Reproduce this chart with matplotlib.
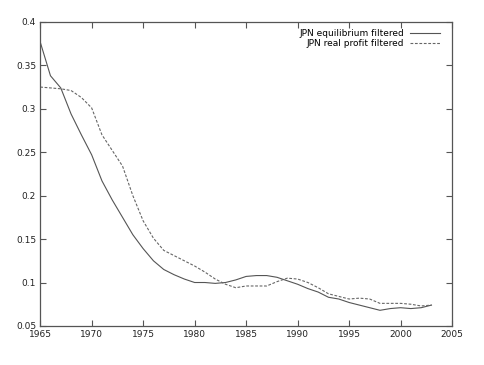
import matplotlib
matplotlib.use("Agg")
import matplotlib.pyplot as plt

years = list(range(1965, 2004))
equilibrium = [0.377, 0.338, 0.324, 0.294, 0.270, 0.247, 0.217, 0.195, 0.175, 0.155,
               0.139, 0.125, 0.115, 0.109, 0.104, 0.100, 0.100, 0.099, 0.100, 0.103,
               0.107, 0.108, 0.108, 0.106, 0.102, 0.098, 0.093, 0.089, 0.083, 0.081,
               0.077, 0.074, 0.071, 0.068, 0.070, 0.071, 0.070, 0.071, 0.074]
real_profit = [0.325, 0.324, 0.323, 0.321, 0.313, 0.301, 0.270, 0.252, 0.234, 0.200,
               0.171, 0.151, 0.137, 0.131, 0.125, 0.119, 0.112, 0.104, 0.098, 0.094,
               0.096, 0.096, 0.096, 0.101, 0.105, 0.104, 0.100, 0.094, 0.087, 0.084,
               0.081, 0.082, 0.081, 0.076, 0.076, 0.076, 0.075, 0.073, 0.074]

xticks = [1965, 1970, 1975, 1980, 1985, 1990, 1995, 2000, 2005]
yticks = [0.05, 0.1, 0.15, 0.2, 0.25, 0.3, 0.35, 0.4]
ytick_labels = ['0.05', '0.1', '0.15', '0.2', '0.25', '0.3', '0.35', '0.4']

fig = plt.figure(figsize=(4.84, 3.65), dpi=100)
ax = fig.add_axes([0.083, 0.107, 0.851, 0.833])

ax.plot(years, equilibrium, color='#555555', lw=0.8, label='JPN equilibrium filtered')
ax.plot(years, real_profit, color='#666666', lw=0.8, ls=(0, (2.5, 1.5)),
        label='JPN real profit filtered')

ax.set_xlim(1965, 2005)
ax.set_ylim(0.05, 0.4)
ax.set_xticks(xticks)
ax.set_yticks(yticks)
ax.set_yticklabels(ytick_labels)
ax.tick_params(direction='in', top=True, right=True, length=4, width=0.8,
               labelsize=6.5, colors='#555555', labelcolor='#222222', pad=3)
for s in ax.spines.values():
    s.set_color('#555555')
    s.set_linewidth(0.9)

ax.legend(loc='upper right', frameon=False, markerfirst=False, fontsize=6.5,
          handlelength=3.3, handletextpad=0.6, labelspacing=0.1,
          borderaxespad=0.3, bbox_to_anchor=(0.985, 0.997))

fig.savefig('out.png', dpi=100)
